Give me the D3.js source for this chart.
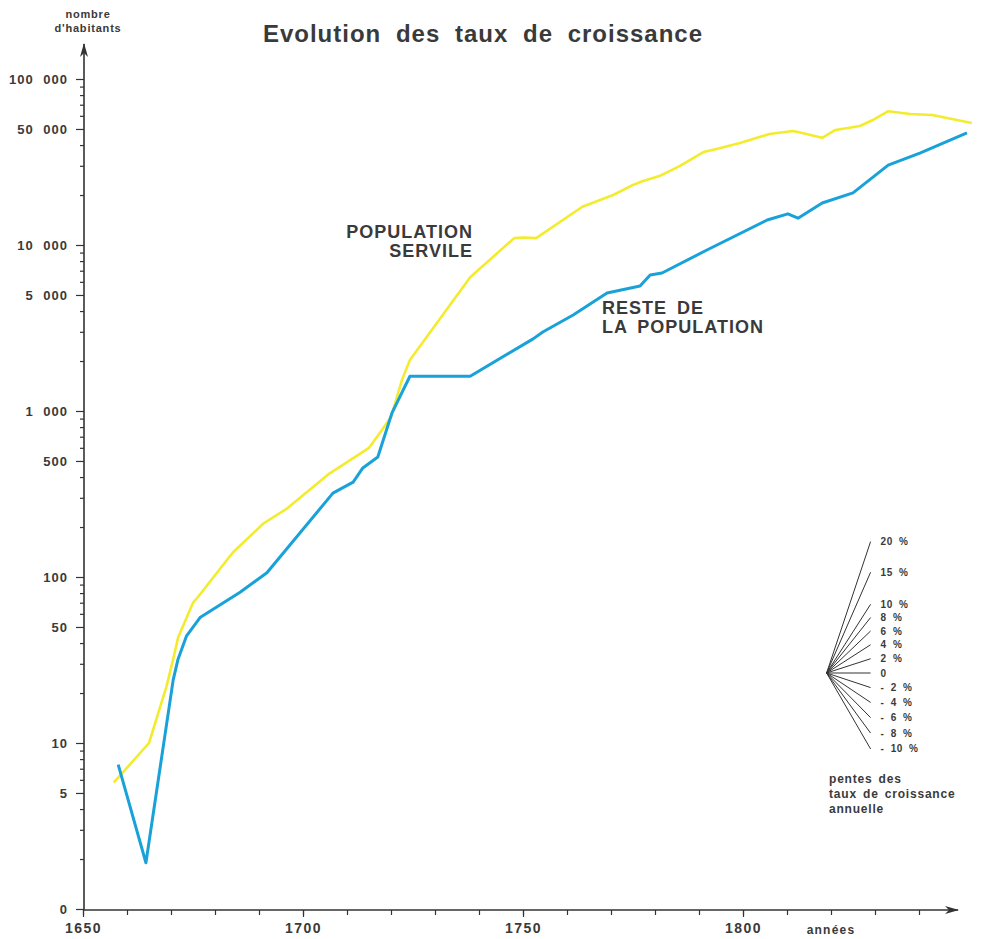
<!DOCTYPE html>
<html>
<head>
<meta charset="utf-8">
<script src="https://cdnjs.cloudflare.com/ajax/libs/d3/7.8.5/d3.min.js"></script>
<style>
  body { margin: 0; background: #fff; }
  text { font-family: "Liberation Sans", Arial, sans-serif; font-weight: bold; fill: #3a3a3a; }
</style>
</head>
<body>
<div id="chart"></div>
<script>
// population servile
var servileYears = [1657, 1658.5, 1665, 1669, 1670.5, 1671.6, 1675, 1676, 1684, 1691, 1696.5, 1706, 1715, 1717.5, 1720, 1722.5, 1724.3, 1738, 1748, 1750, 1753, 1763.5, 1770.5, 1775, 1777.3, 1781, 1785.7, 1791, 1794, 1799.3, 1806, 1811.4, 1813, 1818, 1821, 1826.6, 1829.5, 1833, 1838, 1843, 1852]
var servileValues = [5.8, 6.4, 10, 22, 32, 43, 70, 75, 140, 210, 260, 420, 600, 740, 920, 1540, 2030, 6400, 11000, 11100, 11000, 17000, 20000, 23000, 24300, 26000, 30000, 36300, 37900, 41100, 46600, 48600, 47600, 44200, 49300, 52100, 56600, 64000, 61500, 60700, 54300]

// reste de la population
var resteYears = [1658, 1664.3, 1670.5, 1671.6, 1673.5, 1676.6, 1685.7, 1691.8, 1706.8, 1711.4, 1713.6, 1717, 1720.2, 1724.3, 1738, 1752.3, 1754.5, 1761.4, 1769.1, 1776.6, 1778.9, 1781.6, 1791.8, 1805.5, 1810.2, 1812.5, 1818, 1825, 1833, 1840.2, 1850.9]
var resteValues = [7.4, 1.9, 24, 32, 44, 57, 81, 106, 320, 373, 454, 528, 970, 1620, 1620, 2720, 2990, 3790, 5140, 5660, 6600, 6780, 9330, 14150, 15400, 14500, 17900, 20600, 30300, 35800, 47300]

// axes
var yTickValues = [1, 5, 10, 50, 100, 500, 1000, 5000, 10000, 50000, 100000]
var yTickLabels = ["0", "5", "10", "50", "100", "500", "1 000", "5 000", "10 000", "50 000", "100 000"]
var xTickValues = [1650, 1700, 1750, 1800]

// pentes (taux annuels en %)
var rates = [20, 15, 10, 8, 6, 4, 2, 0, -2, -4, -6, -8, -10]
var rateLabels = ["20 %", "15 %", "10 %", "8 %", "6 %", "4 %", "2 %", "0", "- 2 %", "- 4 %", "- 6 %", "- 8 %", "- 10 %"]
var fanYear = 1819
var fanValue = 26.4
var fanSpan = 10

var width = 983
var height = 939

var svg = d3.select("#chart")
  .append("svg")
  .attr("width", width)
  .attr("height", height)

var x = d3.scaleLinear().domain([1650, 1840]).range([83, 919])
var y = d3.scaleLog().domain([1, 100000]).range([909, 79])

var defs = svg.append("defs")
defs.append("marker")
  .attr("id", "arrow")
  .attr("viewBox", "0 0 14 8")
  .attr("refX", 13)
  .attr("refY", 4)
  .attr("markerWidth", 14)
  .attr("markerHeight", 8)
  .attr("markerUnits", "userSpaceOnUse")
  .attr("orient", "auto")
  .append("path")
  .attr("d", "M0,0 L14,4 L0,8 L4,4 Z")
  .style("fill", "#333")

// title
svg.append("text")
  .attr("x", 483)
  .attr("y", 42)
  .attr("text-anchor", "middle")
  .style("font-size", "24px")
  .style("letter-spacing", "1px")
  .style("word-spacing", "7px")
  .text("Evolution des taux de croissance")

// y axis
var minor = []
for (var e = 0; e < 5; e++) {
  for (var m = 2; m <= 9; m++) {
    if (m != 5) minor.push(m * Math.pow(10, e))
  }
}
svg.append("g")
  .attr("transform", "translate(84,0)")
  .call(d3.axisLeft(y).tickValues(minor).tickFormat("").tickSize(4))
  .call(function(g) { g.select(".domain").remove() })
  .selectAll("line").style("stroke", "#333").style("stroke-width", "1.2px")

var yAxis = svg.append("g")
  .attr("transform", "translate(84,0)")
  .call(d3.axisLeft(y).tickValues(yTickValues).tickFormat(function(d, i) { return yTickLabels[i] }).tickSize(8).tickPadding(8))
yAxis.select(".domain").remove()
yAxis.selectAll("line").style("stroke", "#333").style("stroke-width", "1.2px")
yAxis.selectAll("text")
  .style("font-size", "13px")
  .style("letter-spacing", "1px")
  .style("word-spacing", "5px")
  .style("fill", "#3a3a3a")

svg.append("line")
  .attr("x1", 84).attr("y1", 910)
  .attr("x2", 84).attr("y2", 44)
  .style("stroke", "#333")
  .style("stroke-width", "1.6px")
  .attr("marker-end", "url(#arrow)")

svg.append("text").attr("x", 88).attr("y", 18).attr("text-anchor", "middle").style("font-size", "11px").style("letter-spacing", "0.8px").text("nombre")
svg.append("text").attr("x", 88).attr("y", 32).attr("text-anchor", "middle").style("font-size", "11px").style("letter-spacing", "0.8px").text("d'habitants")

// x axis
var xAxis = svg.append("g")
  .attr("transform", "translate(0,910)")
  .call(d3.axisBottom(x).ticks(19).tickFormat("").tickSize(5))
xAxis.select(".domain").remove()
xAxis.selectAll("line").style("stroke", "#333").style("stroke-width", "1.2px")

svg.append("g")
  .attr("transform", "translate(0,910)")
  .call(d3.axisBottom(x).tickValues(xTickValues).tickFormat(d3.format("d")).tickSize(7).tickPadding(6))
  .call(function(g) { g.select(".domain").remove() })
  .call(function(g) { g.selectAll("line").style("stroke", "#333").style("stroke-width", "1.2px") })
  .selectAll("text")
  .style("font-size", "14px")
  .style("letter-spacing", "1.5px")
  .style("fill", "#3a3a3a")

svg.append("line")
  .attr("x1", 83).attr("y1", 910)
  .attr("x2", 958).attr("y2", 910)
  .style("stroke", "#333")
  .style("stroke-width", "1.6px")
  .attr("marker-end", "url(#arrow)")

svg.append("text").attr("x", x(1820)).attr("y", 934).attr("text-anchor", "middle").style("font-size", "12px").style("letter-spacing", "1.2px").text("années")

// lines
var line = d3.line()
  .x(function(d) { return x(d[0]) })
  .y(function(d) { return y(d[1]) })

svg.append("path")
  .datum(d3.zip(servileYears, servileValues))
  .attr("d", line)
  .style("fill", "none")
  .style("stroke", "#f3ec2e")
  .style("stroke-width", "2.6px")
  .style("stroke-linejoin", "round")

svg.append("path")
  .datum(d3.zip(resteYears, resteValues))
  .attr("d", line)
  .style("fill", "none")
  .style("stroke", "#19a2d9")
  .style("stroke-width", "3px")
  .style("stroke-linejoin", "round")

// series labels
svg.append("text").attr("x", 473).attr("y", 238).attr("text-anchor", "end").style("font-size", "18px").style("letter-spacing", "1px").text("POPULATION")
svg.append("text").attr("x", 473).attr("y", 257).attr("text-anchor", "end").style("font-size", "18px").style("letter-spacing", "1px").text("SERVILE")
svg.append("text").attr("x", 602).attr("y", 314).style("font-size", "18px").style("letter-spacing", "1px").style("word-spacing", "4px").text("RESTE DE")
svg.append("text").attr("x", 602).attr("y", 333).style("font-size", "18px").style("letter-spacing", "1px").style("word-spacing", "4px").text("LA POPULATION")

// fan of slopes
var fan = svg.append("g")
fan.selectAll("line")
  .data(rates)
  .enter().append("line")
  .attr("x1", x(fanYear))
  .attr("y1", y(fanValue))
  .attr("x2", x(fanYear + fanSpan))
  .attr("y2", function(d) { return y(fanValue * Math.pow(1 + d / 100, fanSpan)) })
  .style("stroke", "#333")
  .style("stroke-width", "1px")

fan.selectAll("text")
  .data(rates)
  .enter().append("text")
  .attr("x", x(fanYear + fanSpan) + 10)
  .attr("y", function(d) { return y(fanValue * Math.pow(1 + d / 100, fanSpan)) })
  .attr("dy", "0.35em")
  .style("font-size", "10px")
  .style("letter-spacing", "0.5px")
  .style("word-spacing", "3px")
  .text(function(d, i) { return rateLabels[i] })

svg.append("text").attr("x", 829).attr("y", 783).style("font-size", "12px").style("letter-spacing", "0.8px").style("word-spacing", "2px").text("pentes des")
svg.append("text").attr("x", 829).attr("y", 798).style("font-size", "12px").style("letter-spacing", "0.8px").style("word-spacing", "2px").text("taux de croissance")
svg.append("text").attr("x", 829).attr("y", 813).style("font-size", "12px").style("letter-spacing", "0.8px").style("word-spacing", "2px").text("annuelle")
</script>
</body>
</html>
